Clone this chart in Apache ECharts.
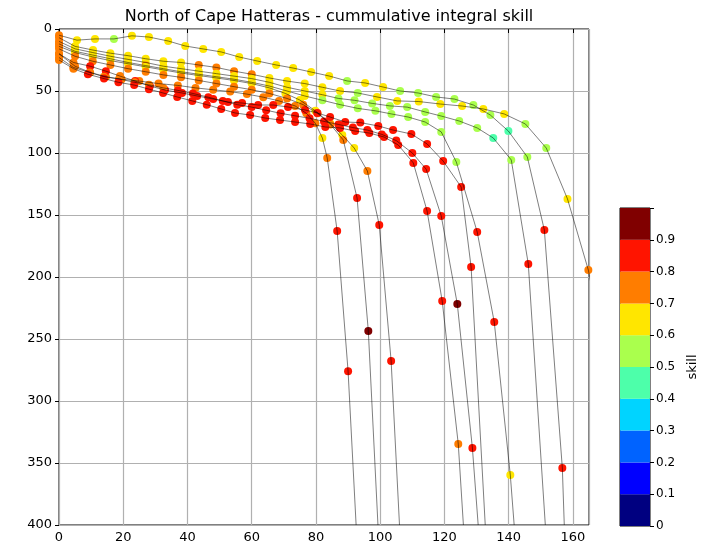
<!DOCTYPE html>
<html>
<head>
<meta charset="utf-8">
<script src="https://cdn.jsdelivr.net/npm/echarts@6/dist/echarts.min.js"></script>
<style>
  html, body { margin: 0; padding: 0; background: #fff; }
  #chart { width: 704px; height: 550px; }
</style>
</head>
<body>
<div id="chart"></div>
<script>
// each point: [distance, depth, skill]; skill null = line vertex only
const curve1 = [[0,7,.72],[5,14,.65],[10.6,17,.65],[16,19.5,.65],[21.5,21.5,.65],[27,24,.65],[32.5,26,.65],[38,27,.65],[43.5,29,.75],[49,31,.75],[54.5,34,.75],[60,36.5,.75],[65.5,39.5,.65],[71,42,.65],[76.5,44,.65],[82,47,.65],[87.5,50,.65],[93,51.6,.55],[99,54.8,.65],[105.3,58,.65],[112,58.5,.65],[118.7,60.5,.65],[125.5,62.1,.65],[132.1,64.5,.65],[138.6,68.5,.65],[145.2,76.6,.55],[151.7,96,.55],[158.3,137,.65],[164.8,194.4,.75],[167.5,230,null]];
const curve2 = [[0,5,.72],[5.6,9,.65],[11.2,8,.65],[17.1,8,.55],[22.7,5.5,.65],[28,6.5,.65],[34,9.7,.65],[39.3,13.7,.65],[44.9,16.1,.65],[50.5,18.5,.65],[56.1,22.6,.65],[61.7,25.8,.65],[67.6,29,.65],[72.9,31.5,.65],[78.5,34.7,.65],[84.1,37.9,.65],[89.7,41.9,.55],[95.3,43.5,.65],[100.9,46.8,.65],[106.2,50,.55],[111.8,51.6,.55],[117.4,54.8,.55],[123.1,56.5,.55],[129,61.3,.55],[134.3,69.4,.55],[139.9,82.3,.45],[145.8,103.2,.55],[151.1,162.1,.85],[156.7,354,.85],[157.3,400,null]];
const curve3 = [[0,10,.75],[5,16,.65],[10.5,19,.65],[16,22,.65],[21.5,24.5,.65],[27,27,.65],[32.5,30,.65],[38,32,.65],[43.5,34,.65],[49,36,.65],[54.5,38,.65],[60,40,.65],[65.5,43,.65],[71,47,.65],[76.5,50,.65],[82,53,.65],[87,56,.55],[92,57.5,.55],[97.5,60,.55],[103,62,.55],[108.4,63,.55],[114,66.9,.55],[119,70.2,.55],[124.6,74.2,.55],[130.2,79.8,.55],[135.2,87.9,.45],[140.8,105.6,.55],[146.1,189.5,.85],[151.4,400,null]];
const curve4 = [[0,12,.75],[5,18,.65],[10.5,21,.65],[16,24,.65],[21.5,27,.65],[27,29.5,.75],[32.5,32,.65],[38,34.5,.65],[43.5,36.5,.65],[49,38.5,.65],[54.5,40.5,.65],[60,43,.65],[65.5,46,.65],[71,50,.65],[76.5,54,.65],[82,57.5,.55],[87.5,61,.55],[93,64,.55],[98.5,66,.55],[103.5,68.5,.55],[108.7,71,.55],[114,75,.55],[119,83,.55],[123.7,107.3,.55],[130.2,163.7,.85],[135.5,236.3,.85],[140.5,359.7,.65],[141.7,400,null]];
const curve5 = [[0,14,.75],[5,19,.65],[10.5,22.5,.65],[16,25.5,.65],[21.5,28,.65],[27,30.5,.65],[32.5,33,.65],[38,35.5,.65],[43.5,37.5,.65],[49,39.5,.65],[54.5,41.5,.65],[60,44,.65],[65.5,47.5,.65],[70.5,52,.65],[75,57.3,.65],[79.8,66,.65],[84.4,76,.65],[88.2,85.5,.65],[91.9,96,.65],[96,114.5,.75],[99.7,158,.85],[103.4,267.7,.85],[106,400,null]];
const curve6 = [[0,16,.75],[5,22,.75],[10.5,26,.75],[16,29,.75],[21.5,32,.75],[27,34.5,.75],[32.5,37,.75],[38,39,.75],[43.5,41.5,.75],[49,44,.75],[54.5,46.5,.75],[60,49,.75],[65.5,52,.75],[71,56,.75],[76,61,.75],[80.5,68,.75],[84.5,77,.75],[88.5,89.5,.75],[92.8,136.3,.85],[96.3,243.5,.95],[99.3,400,null]];
const curve7 = [[0,20,.75],[5,30,.75],[9.7,35,.75],[14.6,38.5,.75],[19.5,40.5,.75],[25,42,.75],[31,44,.75],[37,45.5,.75],[42.5,47.5,.75],[48,49,.75],[53.3,50.5,.75],[58.5,52.5,.75],[63.6,55,.75],[68.5,58,.75],[73.5,62,.75],[77,68,.75],[79.8,76,.75],[82,88,.65],[83.5,104,.75],[86.6,163,.85],[90,276,.85],[92.5,400,null]];
const curve8 = [[0,20,.75],[4.5,27,.75],[9.7,30,.85],[14.6,34,.85],[19,38,.75],[23.7,42,.85],[28.3,46,.85],[33,49.2,.85],[38.3,51.6,.85],[43,54,.85],[48,56.5,.85],[52.6,58.9,.85],[57,59.7,.85],[62,61.3,.85],[66.7,61.3,.85],[71.3,62.9,.85],[76.6,65.3,.85],[80.4,67.7,.85],[84.4,71,.85],[89.1,75,.85],[93.8,75.5,.85],[99.4,78.2,.85],[104,81.5,.85],[109.7,84.7,.85],[114.6,92.7,.85],[119.6,106.5,.85],[125.2,127.4,.85],[128.3,192,.85],[132.7,400,null]];
const curve9 = [[0,23,.75],[4.5,31,.75],[9.5,35,.75],[14,38.5,.75],[18.7,40.3,.75],[23.5,43,.75],[28,45,.75],[32.5,47.5,.75],[37,49.5,.85],[41.7,52,.85],[46.5,55,.85],[51,58,.85],[55.5,61,.85],[60,63,.85],[64.5,65.5,.85],[69,68,.85],[73.5,70,.85],[78,72,.85],[82.5,74.5,.85],[87,77,.85],[91.5,79.5,.85],[96,81.5,.85],[100.5,85,.85],[105,90,.85],[110,100,.85],[114.3,113,.85],[119,150.8,.85],[124,221.8,.95],[128.7,337.9,.85],[130.5,400,null]];
const curve10 = [[0,25,.75],[4.5,32,.75],[9,36.5,.85],[14,40,.85],[18.5,43,.85],[23.4,45.2,.85],[28,48.5,.85],[32.4,51.6,.85],[36.8,54.8,.85],[41.5,58,.85],[46,61,.85],[50.5,64.5,.85],[54.8,67.7,.85],[59.5,69.4,.85],[64.2,71.8,.85],[68.8,73.4,.85],[73.5,75,.85],[78.2,76.6,.85],[82.9,79,.85],[87.5,79.8,.85],[92.2,82.3,.85],[96.6,83.9,.85],[101.2,87.1,.85],[105.6,93.5,.85],[110.3,108,.85],[114.6,146.8,.85],[119.3,219.4,.85],[124.3,334.7,.75],[125.9,400,null]];

const curves = [curve1, curve2, curve3, curve4, curve5, curve6, curve7, curve8, curve9, curve10];

// colour bar levels (jet, 10 steps)
const levels = [0, 0.1, 0.2, 0.3, 0.4, 0.5, 0.6, 0.7, 0.8, 0.9];
const levelColors = ['#000080', '#0000ff', '#0063ff', '#00d4ff', '#4dffaa', '#aaff4d', '#ffe600', '#ff7d00', '#ff1400', '#800000'];

const chart = echarts.init(document.getElementById('chart'));

const font = 'DejaVu Sans';
const series = [];

// black profile lines
curves.forEach(c => {
  series.push({
    type: 'line',
    data: c.map(p => [p[0], p[1]]),
    symbol: 'none',
    silent: true,
    clip: true,
    z: 4,
    lineStyle: { color: '#000', width: 0.6, opacity: 0.85 }
  });
});

// coloured skill points
const pts = [];
curves.forEach(c => c.forEach(p => { if (p[2] != null) pts.push(p); }));
const scatterIndex = series.length;
series.push({
  type: 'scatter',
  data: pts,
  symbolSize: 8,
  z: 3,
  clip: false,
  itemStyle: { opacity: 1 }
});

// colour bar
levels.forEach((lv, i) => {
  series.push({
    type: 'bar',
    xAxisIndex: 1,
    yAxisIndex: 1,
    stack: 'cb',
    data: [0.1],
    barWidth: '100%',
    silent: true,
    itemStyle: { color: levelColors[i] }
  });
});

chart.setOption({
  animation: false,
  title: {
    text: 'North of Cape Hatteras - cummulative integral skill',
    left: 324,
    textAlign: 'center',
    top: 4,
    textStyle: { fontFamily: font, fontSize: 16, fontWeight: 'normal', color: '#000' }
  },
  grid: [
    { left: 59, right: 115, top: 29, bottom: 25, show: true, borderColor: '#000', borderWidth: 1 },
    { left: 620, top: 208, width: 30, height: 318, show: true, borderColor: '#000', borderWidth: 1 }
  ],
  visualMap: {
    type: 'piecewise',
    show: false,
    seriesIndex: scatterIndex,
    dimension: 2,
    pieces: levels.map((lv, i) => ({ gte: lv, lt: lv + 0.1, color: levelColors[i] }))
  },
  xAxis: [
    {
      type: 'value', min: 0, max: 165, interval: 20,
      axisLine: { show: false },
      axisTick: { show: true, length: 4, lineStyle: { color: '#000' } },
      axisLabel: { fontFamily: font, fontSize: 13, color: '#000', margin: 6,
        showMaxLabel: false },
      splitLine: { show: true, lineStyle: { color: '#b0b0b0', width: 1.2 } }
    },
    {
      gridIndex: 1, type: 'category', data: ['skill'],
      axisLine: { show: false }, axisTick: { show: false }, axisLabel: { show: false }
    }
  ],
  yAxis: [
    {
      type: 'value', min: 0, max: 400, interval: 50, inverse: true,
      axisLine: { show: false },
      axisTick: { show: true, length: 4, lineStyle: { color: '#000' } },
      axisLabel: { fontFamily: font, fontSize: 13, color: '#000', margin: 7 },
      splitLine: { show: true, lineStyle: { color: '#b0b0b0', width: 1.2 } }
    },
    {
      gridIndex: 1, type: 'value', min: 0, max: 1, interval: 0.1, position: 'right',
      axisLine: { show: false },
      axisTick: { show: true, length: 4, lineStyle: { color: '#000' } },
      axisLabel: {
        fontFamily: font, fontSize: 12, color: '#000', margin: 6,
        formatter: v => (v >= 0.999 ? '' : (v === 0 ? '0' : v.toFixed(1)))
      },
      splitLine: { show: false },
      name: 'skill',
      nameLocation: 'middle',
      nameRotate: 90,
      nameGap: 36,
      nameTextStyle: { fontFamily: font, fontSize: 13, color: '#000' }
    }
  ],
  series: series
});
</script>
</body>
</html>
